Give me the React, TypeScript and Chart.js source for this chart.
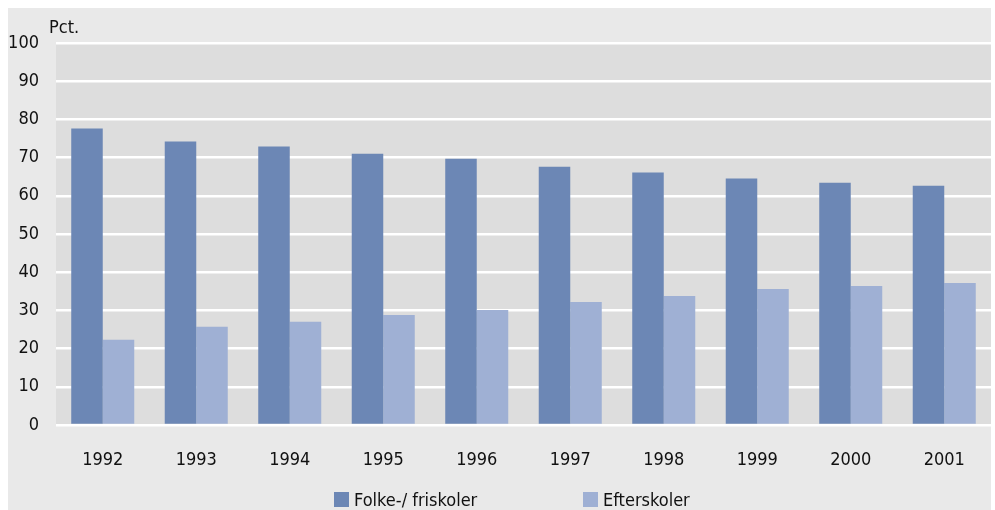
import React, { useEffect, useRef } from "react";
import { Chart, registerables } from "chart.js";

Chart.register(...registerables);

const years = ["1992", "1993", "1994", "1995", "1996", "1997", "1998", "1999", "2000", "2001"];
const folkeFriskoler = [77.6, 74.2, 72.9, 71.0, 69.7, 67.6, 66.1, 64.5, 63.4, 62.6];
const efterskoler = [22.3, 25.7, 27.0, 28.8, 30.1, 32.2, 33.8, 35.6, 36.4, 37.2];
const seriesNames = ["Folke-/ friskoler", "Efterskoler"];
const seriesColors = ["#6c87b5", "#9fb0d4"];
const yUnit = "Pct.";

const FONT = "'DejaVu Sans Condensed', 'Liberation Sans Narrow', sans-serif";
const FS = 18;

const bgPlugin = {
  id: "bgPlugin",
  beforeDraw(chart: any) {
    const { ctx, chartArea, width, height } = chart;
    ctx.save();
    ctx.fillStyle = "#e9e9e9";
    ctx.fillRect(0, 0, width, height);
    ctx.fillStyle = "#dddddd";
    ctx.fillRect(chartArea.left, chartArea.top, chartArea.right - chartArea.left, chartArea.bottom - chartArea.top);
    ctx.restore();
  },
  afterDraw(chart: any) {
    const { ctx } = chart;
    ctx.save();
    ctx.font = `${FS}px ${FONT}`;
    ctx.fillStyle = "#111";
    ctx.textBaseline = "alphabetic";
    ctx.textAlign = "left";
    ctx.fillText(yUnit, 41, 25);
    const xs = [326, 575];
    chart.data.datasets.forEach((ds: any, i: number) => {
      ctx.fillStyle = ds.backgroundColor;
      ctx.fillRect(xs[i], 484, 15, 15);
      ctx.fillStyle = "#111";
      ctx.fillText(ds.label, xs[i] + 20, 498);
    });
    ctx.restore();
  },
};

export default function App() {
  const ref = useRef<HTMLCanvasElement | null>(null);
  useEffect(() => {
    if (!ref.current) return;
    const chart = new Chart(ref.current, {
      type: "bar",
      data: {
        labels: years,
        datasets: [
          { label: seriesNames[0], data: folkeFriskoler, backgroundColor: seriesColors[0] },
          { label: seriesNames[1], data: efterskoler, backgroundColor: seriesColors[1] },
        ],
      },
      options: {
        animation: false,
        responsive: true,
        maintainAspectRatio: false,
        layout: { padding: { top: 35, right: 0, left: 0, bottom: 0 } },
        datasets: { bar: { categoryPercentage: 0.674, barPercentage: 1, borderWidth: 0 } },
        plugins: { legend: { display: false }, tooltip: { enabled: false } },
        scales: {
          x: {
            grid: { display: false, drawTicks: false },
            border: { display: false },
            ticks: { color: "#111", font: { family: FONT, size: FS }, padding: 25 },
            afterFit(scale: any) {
              scale.height = 85;
            },
          },
          y: {
            min: 0,
            max: 100,
            ticks: { stepSize: 10, color: "#111", font: { family: FONT, size: FS }, padding: 17 },
            grid: { color: "#ffffff", lineWidth: 2.5, drawTicks: false },
            border: { display: false },
            afterFit(scale: any) {
              scale.width = 48;
            },
          },
        },
      },
      plugins: [bgPlugin],
    });
    return () => chart.destroy();
  }, []);
  return (
    <div style={{ position: "fixed", left: 8, top: 8, width: 983, height: 502 }}>
      <canvas ref={ref} />
    </div>
  );
}
